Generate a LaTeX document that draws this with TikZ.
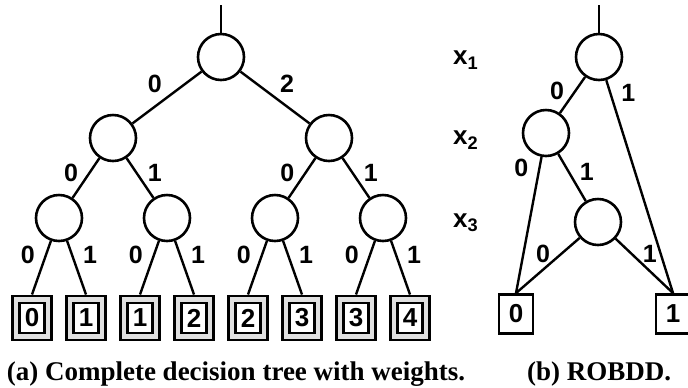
\documentclass[tikz,border=0pt]{standalone}
\usepackage{fontspec}
\setmainfont{Liberation Serif}
\setsansfont{Liberation Sans}
\usetikzlibrary{positioning}
\tikzset{
    % Node types
    dnode/.style={circle, draw, line width=1.3pt, minimum size=23pt, inner sep=0pt},
    leafnode/.style={
        draw, line width=1.3pt, double=black!12, double distance=2.2pt,
        minimum width=16pt, minimum height=18.5pt, inner sep=0pt, outer sep=2.5pt,
        font=\sffamily\bfseries\fontsize{13}{13}\selectfont
    },
    termnode/.style={
        draw, line width=1.4pt, minimum width=17pt, minimum height=19.5pt, inner sep=0pt,
        font=\sffamily\bfseries\fontsize{13}{13}\selectfont
    },
    % Edges
    branch/.style={line width=1.2pt},
    % Labels
    wlabel/.style={font=\sffamily\bfseries\fontsize{12.5}{12.5}\selectfont, inner sep=2pt},
    varlabel/.style={font=\sffamily\bfseries\fontsize{13}{13}\selectfont},
    caption/.style={font=\bfseries\fontsize{13.5}{14}\selectfont, anchor=base},
}

\begin{document}
\begin{tikzpicture}[x=0.5pt, y=-0.5pt, on grid]
\useasboundingbox (0,0) rectangle (688,387);

% (a) Complete decision tree
\coordinate (in) at (221,5);
\node (root) [dnode] at (221,57) {};

\node (n0) [dnode, below left=40.5pt and 54pt of root] {};
\node (n1) [dnode, below right=40.5pt and 54pt of root] {};

\node (n00) [dnode, below left=40pt and 27pt of n0] {};
\node (n01) [dnode, below right=40pt and 27pt of n0] {};
\node (n10) [dnode, below left=40pt and 27pt of n1] {};
\node (n11) [dnode, below right=40pt and 27pt of n1] {};

\node (w0) [leafnode, below left=50pt and 13.5pt of n00] {0};
\node (w1) [leafnode, below right=50pt and 13.5pt of n00] {1};
\node (w2) [leafnode, below left=50pt and 13.5pt of n01] {1};
\node (w3) [leafnode, below right=50pt and 13.5pt of n01] {2};
\node (w4) [leafnode, below left=50pt and 13.5pt of n10] {2};
\node (w5) [leafnode, below right=50pt and 13.5pt of n10] {3};
\node (w6) [leafnode, below left=50pt and 13.5pt of n11] {3};
\node (w7) [leafnode, below right=50pt and 13.5pt of n11] {4};

\draw[branch] (in) -- (root);
\draw[branch] (root) -- node[wlabel, pos=0.5, above left] {0} (n0);
\draw[branch] (root) -- node[wlabel, pos=0.5, above right] {2} (n1);
\draw[branch] (n0) -- node[wlabel, pos=0.375, left=3pt] {0} (n00);
\draw[branch] (n0) -- node[wlabel, pos=0.375, right=3pt] {1} (n01);
\draw[branch] (n1) -- node[wlabel, pos=0.375, left=3pt] {0} (n10);
\draw[branch] (n1) -- node[wlabel, pos=0.375, right=3pt] {1} (n11);
\draw[branch] (n00) -- node[wlabel, pos=0.26, left=3pt] {0} (w0.north);
\draw[branch] (n00) -- node[wlabel, pos=0.26, right=3pt] {1} (w1.north);
\draw[branch] (n01) -- node[wlabel, pos=0.26, left=3pt] {0} (w2.north);
\draw[branch] (n01) -- node[wlabel, pos=0.26, right=3pt] {1} (w3.north);
\draw[branch] (n10) -- node[wlabel, pos=0.26, left=3pt] {0} (w4.north);
\draw[branch] (n10) -- node[wlabel, pos=0.26, right=3pt] {1} (w5.north);
\draw[branch] (n11) -- node[wlabel, pos=0.26, left=3pt] {0} (w6.north);
\draw[branch] (n11) -- node[wlabel, pos=0.26, right=3pt] {1} (w7.north);

% Variable order
\node (v1) [varlabel] at (466,60) {x\textsubscript{1}};
\node (v2) [varlabel] at (466,140) {x\textsubscript{2}};
\node (v3) [varlabel] at (466,223) {x\textsubscript{3}};

% (b) ROBDD
\coordinate (bin) at (599,5);
\node (broot) [dnode] at (599,57) {};
\node (bx2) [dnode, below left=38pt and 26.5pt of broot] {};
\node (bx3) [dnode, below right=44.5pt and 26pt of bx2] {};
\node (bzero) [termnode, below left=46pt and 41pt of bx3] {0};
\node (bone) [termnode, below right=46pt and 37.5pt of bx3] {1};

\draw[branch] (bin) -- (broot);
\draw[branch] (broot) -- node[wlabel, pos=0.39, left=3pt] {0} (bx2);
\draw[branch] (broot) -- node[wlabel, pos=0.06, right=3pt] {1} (bone.north);
\draw[branch] (bx2) -- node[wlabel, pos=0.08, left=3pt] {0} (bzero.north);
\draw[branch] (bx2) -- node[wlabel, pos=0.38, right=3pt] {1} (bx3);
\draw[branch] (bx3) -- node[wlabel, pos=0.29, left=3pt] {0} (bzero.north);
\draw[branch] (bx3) -- node[wlabel, pos=0.28, right=3pt] {1} (bone.north);

% Captions
\node (capa) [caption] at (236,380) {(a) Complete decision tree with weights.};
\node (capb) [caption] at (599,380) {(b) ROBDD.};

\end{tikzpicture}
\end{document}
